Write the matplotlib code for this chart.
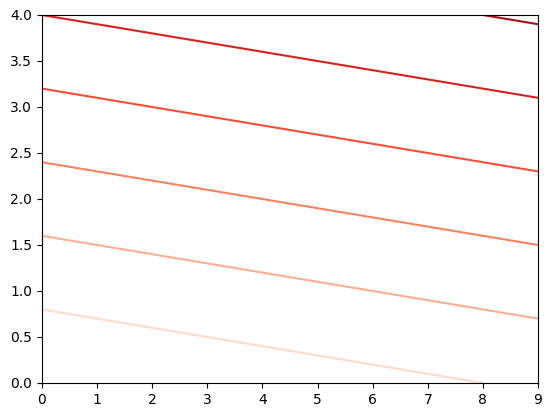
import matplotlib
matplotlib.use("Agg")
import matplotlib.pyplot as plt
import numpy as np

x = [0, 1, 2, 3, 4, 5, 6, 7, 8, 9]
y = [0, 1, 2, 3, 4]
z = [
    [0.0, 0.1, 0.2, 0.3, 0.4, 0.5, 0.6, 0.7, 0.8, 0.9],
    [1.0, 1.1, 1.2, 1.3, 1.4, 1.5, 1.6, 1.7, 1.8, 1.9],
    [2.0, 2.1, 2.2, 2.3, 2.4, 2.5, 2.6, 2.7, 2.8, 2.9],
    [3.0, 3.1, 3.2, 3.3, 3.4, 3.5, 3.6, 3.7, 3.8, 3.9],
    [4.0, 4.1, 4.2, 4.3, 4.4, 4.5, 4.6, 4.7, 4.8, 4.9],
]
levels = [0.0, 0.8, 1.6, 2.4, 3.2, 4.0, 4.8]

fig = plt.figure(figsize=(5.52, 4.18), dpi=100)
ax = fig.add_axes([42/552, 1-383/418, 496/552, 368/418])
ax.contour(x, y, z, levels=levels, cmap='Reds', vmin=0.0, vmax=5.6)
fig.savefig("out.png", dpi=100)
